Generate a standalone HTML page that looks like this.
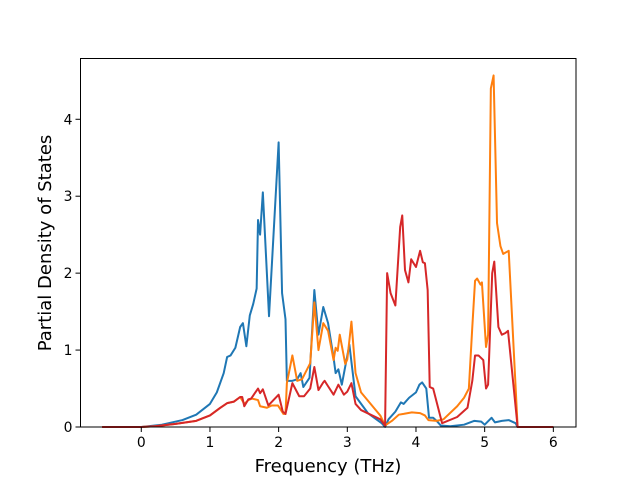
<!DOCTYPE html>
<html><head><meta charset="utf-8">
<style>
html,body{margin:0;padding:0;background:#fff;}
svg{display:block;font-family:"DejaVu Sans","Liberation Sans",sans-serif;}
</style></head>
<body>
<svg id="chart" width="640" height="480" viewBox="0 0 640 480">
  <rect x="0" y="0" width="640" height="480" fill="#fff"/>
  <g id="series"></g>
  <rect x="80.5" y="58.5" width="495.5" height="368.5" fill="none" stroke="#000" stroke-width="1"/>
  <g id="xticks"></g>
  <g id="yticks"></g>
  <text x="328" y="472" font-size="18" text-anchor="middle">Frequency (THz)</text>
  <text transform="translate(51,243) rotate(-90)" font-size="18" text-anchor="middle">Partial Density of States</text>
</svg>
<script>
const xTicks = [0, 1, 2, 3, 4, 5, 6];
const yTicks = [0, 1, 2, 3, 4];
const blueX = [-0.57,0,0.3,0.6,0.8,1.0,1.1,1.2,1.25,1.3,1.37,1.44,1.48,1.53,1.58,1.63,1.68,1.70,1.73,1.77,1.86,2.0,2.05,2.1,2.12,2.2,2.27,2.32,2.36,2.45,2.52,2.58,2.65,2.72,2.8,2.83,2.87,2.92,3.03,3.12,3.3,3.5,3.55,3.6,3.7,3.78,3.82,3.9,4.0,4.05,4.09,4.15,4.19,4.25,4.3,4.36,4.5,4.7,4.85,4.95,5.0,5.1,5.15,5.25,5.35,5.45,5.48,6.0];
const blueY = [0,0,0.03,0.09,0.16,0.3,0.45,0.7,0.91,0.93,1.03,1.3,1.35,1.05,1.45,1.6,1.8,2.69,2.5,3.05,1.44,3.7,1.74,1.4,0.6,0.6,0.62,0.7,0.52,0.64,1.78,1.2,1.56,1.35,0.9,0.7,0.75,0.55,1.07,0.4,0.18,0.05,0.0,0.1,0.2,0.32,0.3,0.38,0.45,0.55,0.58,0.5,0.12,0.12,0.08,0.02,0.01,0.03,0.08,0.07,0.03,0.12,0.06,0.08,0.09,0.05,0,0];
const orangeX = [-0.57,0,0.2,0.5,0.8,1.0,1.15,1.25,1.35,1.44,1.5,1.56,1.61,1.7,1.73,1.83,1.9,1.99,2.07,2.1,2.12,2.2,2.27,2.34,2.46,2.52,2.58,2.65,2.72,2.8,2.83,2.86,2.89,2.97,3.0,3.06,3.12,3.2,3.48,3.55,3.65,3.75,3.82,3.94,4.06,4.13,4.18,4.3,4.4,4.6,4.7,4.77,4.82,4.86,4.89,4.94,4.96,5.02,5.05,5.09,5.13,5.18,5.23,5.27,5.35,5.48,6.0];
const orangeY = [0,0,0.01,0.04,0.08,0.15,0.25,0.31,0.33,0.39,0.3,0.35,0.37,0.35,0.27,0.25,0.28,0.28,0.17,0.17,0.57,0.93,0.6,0.62,0.83,1.62,1.0,1.35,1.25,0.87,1.03,0.99,1.2,0.82,0.88,1.37,0.7,0.45,0.15,0.02,0.08,0.16,0.17,0.19,0.18,0.15,0.09,0.08,0.1,0.27,0.38,0.5,1.3,1.9,1.93,1.85,1.88,1.04,1.2,4.4,4.57,2.65,2.35,2.25,2.29,0,0];
const redX = [-0.57,0,0.2,0.5,0.8,1.0,1.15,1.25,1.35,1.44,1.47,1.5,1.56,1.6,1.7,1.73,1.77,1.85,2.0,2.06,2.1,2.2,2.3,2.37,2.46,2.52,2.58,2.65,2.67,2.72,2.8,2.87,2.95,3.0,3.06,3.12,3.2,3.48,3.55,3.58,3.63,3.70,3.77,3.80,3.84,3.89,3.93,4.0,4.06,4.1,4.13,4.17,4.2,4.25,4.38,4.6,4.75,4.82,4.86,4.91,4.98,5.02,5.05,5.11,5.14,5.2,5.25,5.3,5.34,5.48,6.0];
const redY = [0,0,0.01,0.04,0.08,0.15,0.25,0.31,0.33,0.39,0.39,0.27,0.36,0.37,0.5,0.44,0.49,0.28,0.42,0.2,0.17,0.57,0.4,0.4,0.5,0.78,0.48,0.58,0.6,0.53,0.42,0.55,0.42,0.46,0.57,0.3,0.22,0.1,0.02,2.0,1.74,1.58,2.6,2.75,2.04,1.88,2.18,2.08,2.29,2.14,2.13,1.78,0.52,0.5,0.05,0.13,0.25,0.6,0.93,0.93,0.87,0.5,0.55,2.0,2.15,1.3,1.2,1.22,1.25,0,0];

const NS = "http://www.w3.org/2000/svg";
const L = 80.5, R = 576, T = 58.5, B = 427;
const X0 = -0.885, X1 = 6.33, Y0 = 0, Y1 = 4.79;
function sx(v){ return L + (v - X0) / (X1 - X0) * (R - L); }
function sy(v){ return B - (v - Y0) / (Y1 - Y0) * (B - T); }

const series = document.getElementById('series');
function drawLine(xs, ys, color, name){
  const p = document.createElementNS(NS, 'path');
  let d = '';
  for (let i = 0; i < xs.length; i++) d += (i ? 'L' : 'M') + sx(xs[i]).toFixed(2) + ',' + sy(ys[i]).toFixed(2);
  p.setAttribute('d', d);
  p.setAttribute('fill', 'none');
  p.setAttribute('stroke', color);
  p.setAttribute('stroke-width', '2');
  p.setAttribute('stroke-linejoin', 'round');
  
  
  series.appendChild(p);
}
drawLine(blueX, blueY, '#1f77b4', 'series-blue');
drawLine(orangeX, orangeY, '#ff7f0e', 'series-orange');
drawLine(redX, redY, '#d62728', 'series-red');

const xg = document.getElementById('xticks');
xTicks.forEach(v => {
  const x = sx(v);
  const ln = document.createElementNS(NS, 'line');
  ln.setAttribute('x1', x); ln.setAttribute('x2', x);
  ln.setAttribute('y1', B); ln.setAttribute('y2', B + 5);
  ln.setAttribute('stroke', '#000');
  
  
  xg.appendChild(ln);
  const t = document.createElementNS(NS, 'text');
  t.setAttribute('x', x); t.setAttribute('y', B + 20);
  t.setAttribute('font-size', '13.9');
  t.setAttribute('text-anchor', 'middle');
  t.textContent = v;
  
  
  xg.appendChild(t);
});
const yg = document.getElementById('yticks');
yTicks.forEach(v => {
  const y = sy(v);
  const ln = document.createElementNS(NS, 'line');
  ln.setAttribute('x1', L - 5); ln.setAttribute('x2', L);
  ln.setAttribute('y1', y); ln.setAttribute('y2', y);
  ln.setAttribute('stroke', '#000');
  
  
  yg.appendChild(ln);
  const t = document.createElementNS(NS, 'text');
  t.setAttribute('x', L - 8); t.setAttribute('y', y + 5);
  t.setAttribute('font-size', '13.9');
  t.setAttribute('text-anchor', 'end');
  t.textContent = v;
  
  
  yg.appendChild(t);
});
</script>
</body></html>
